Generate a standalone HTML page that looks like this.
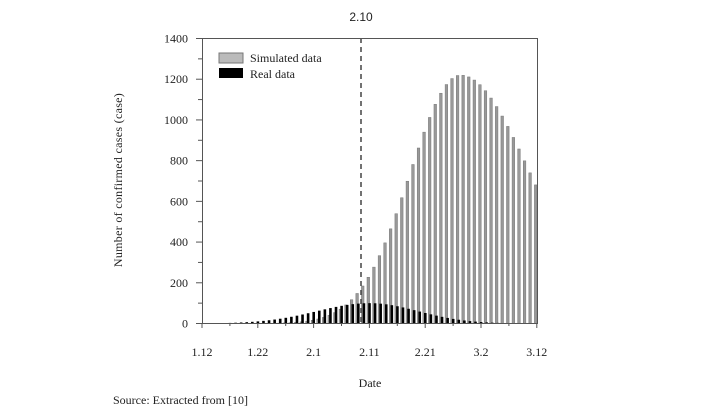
<!DOCTYPE html>
<html><head><meta charset="utf-8"><style>
html,body{margin:0;padding:0;background:#fff;width:706px;height:420px;overflow:hidden}
svg{display:block}
text{font-family:"Liberation Serif",serif;fill:#222}
</style></head><body>
<svg width="706" height="420" xmlns="http://www.w3.org/2000/svg" id="s">
<g id="bars"></g>
<line x1="361" y1="38" x2="361" y2="323" stroke="#444" stroke-width="1.5" stroke-dasharray="5,4"/>
<rect x="202.5" y="38.5" width="335" height="285" fill="none" stroke="#555" stroke-width="1"/>
<g id="ticks" stroke="#555" stroke-width="1"></g>
<g id="labels" font-size="12"></g>
<rect x="219" y="53" width="24" height="10" fill="#bbb" stroke="#777"/>
<rect x="219" y="68" width="24" height="10" fill="#000"/>
<text x="250" y="62" font-size="12">Simulated data</text>
<text x="250" y="78" font-size="12">Real data</text>
<text x="361" y="21" font-size="12" text-anchor="middle" style="font-family:'Liberation Sans',sans-serif">2.10</text>
<text x="370" y="387" font-size="12" text-anchor="middle">Date</text>
<text x="113" y="404" font-size="12">Source: Extracted from [10]</text>
<text transform="translate(122,180) rotate(-90)" font-size="12" text-anchor="middle" letter-spacing="0.3">Number of confirmed cases (case)</text>
</svg>
<script>
var ns="http://www.w3.org/2000/svg",b=document.getElementById('bars'),t=document.getElementById('ticks'),l=document.getElementById('labels');
function el(p,n,a){var e=document.createElementNS(ns,n);for(var k in a)e.setAttribute(k,a[k]);p.appendChild(e);return e}
function Y(v){return 323.5-v*285/1400}
for(var d=1;d<=60;d++){var x=202+d*5.58;
var s=1220*Math.exp(-Math.pow(d-46.5,2)/(2*Math.pow(d<46.5?9:12.5,2)));
var r=100*Math.exp(-Math.pow(d-30,2)/(2*Math.pow(d<30?9.4:8.7,2)));
if(s>0.5)el(b,'rect',{x:x-2.4,y:Y(s),width:2.6,height:323.5-Y(s),fill:'#999',stroke:'#777','stroke-width':0.5});
if(r>0.5)el(b,'rect',{x:x-1.2,y:Y(r),width:2.6,height:323.5-Y(r),fill:'#000'});}
for(var v=0;v<=1400;v+=100){var y=Y(v);el(t,'line',{x1:v%200?198:196,x2:202,y1:y,y2:y});
if(v%200==0){var e=el(l,'text',{x:188,y:y+4,'text-anchor':'end'});e.textContent=v;}}
var lab=['1.12','1.22','2.1','2.11','2.21','3.2','3.12'];
for(var i=0;i<=12;i++){var x=202+i*27.9;el(t,'line',{x1:x,x2:x,y1:323.5,y2:i%2?326:328});
if(i%2==0){var e=el(l,'text',{x:x,y:356,'text-anchor':'middle'});e.textContent=lab[i/2];}}
</script>
</body></html>
